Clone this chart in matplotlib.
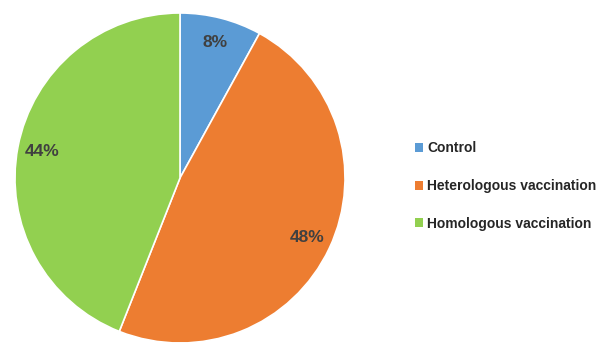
import matplotlib
matplotlib.use("Agg")
from matplotlib import pyplot as plt
from matplotlib.patches import Patch

# data
categories = ["Control", "Heterologous vaccination", "Homologous vaccination"]
shares = [8, 48, 44]
colors = ["#5B9BD5", "#ED7D31", "#92D050"]

plt.rcParams["font.family"] = ["Liberation Sans", "DejaVu Sans"]

fig = plt.figure(figsize=(5.98, 3.46), dpi=100)
W, H = 598, 346

# pie centred near (180, 178) px, radius ~165 px
ax = fig.add_axes([15 / W, (H - 343) / H, 330 / W, 330 / H])
wedges, texts, autotexts = ax.pie(
    shares, colors=colors, startangle=90, counterclock=False,
    autopct="%d%%", pctdistance=0.85, radius=1.0,
    wedgeprops=dict(edgecolor="white", linewidth=1.2),
    textprops=dict(color="#404040", fontsize=12.5, fontweight="bold"),
)
ax.set_xlim(-1, 1)
ax.set_ylim(-1, 1)
ax.set_aspect("equal")

handles = [Patch(facecolor=c, edgecolor="none") for c in colors]
leg = fig.legend(
    handles, categories, loc="center left",
    bbox_to_anchor=(402 / W, (H - 186) / H), frameon=False,
    handlelength=0.6, handleheight=0.6, handletextpad=0.3,
    labelspacing=1.7, prop=dict(size=10.0, weight="bold"),
)
for t in leg.get_texts():
    t.set_color("#262626")

fig.savefig("out.png", dpi=100)
